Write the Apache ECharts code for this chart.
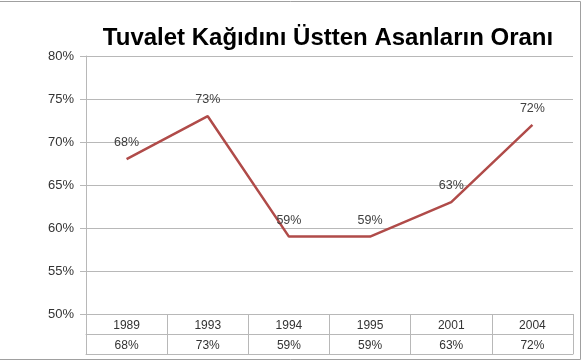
<!DOCTYPE html>
<html>
<head>
<meta charset="utf-8">
<script src="https://cdn.jsdelivr.net/npm/echarts@6/dist/echarts.min.js"></script>
<style>
html,body{margin:0;padding:0;background:#fff;}
#c{width:587px;height:362px;}
</style>
</head>
<body>
<div id="c"></div>
<script>
var title = 'Tuvalet Kağıdını Üstten Asanların Oranı';
var years = ['1989', '1993', '1994', '1995', '2001', '2004'];
var values = [68, 73, 59, 59, 63, 72];
var yMin = 50, yMax = 80, yStep = 5;

var valueLabels = values.map(function (v) { return v + '%'; });
var chart = echarts.init(document.getElementById('c'));
var font = '"Liberation Sans", Arial, sans-serif';
var gridLine = '#b8b8b8';

chart.setOption({
  backgroundColor: '#fff',
  animation: false,
  title: {
    text: title,
    left: 323, textAlign: 'center', top: 21,
    textStyle: { fontFamily: font, fontWeight: 'bold', fontSize: 24, color: '#000' }
  },
  graphic: [
    { type: 'polyline', shape: { points: [[0, 1.5], [580.5, 1.5], [580.5, 359.5], [0, 359.5]] },
      style: { fill: 'none', stroke: '#a0a0a0', lineWidth: 1 }, silent: true }
  ],
  grid: { left: 86, right: 14, top: 56, bottom: 48 },
  xAxis: [
    {
      type: 'category', data: years, position: 'bottom', boundaryGap: true,
      axisLine: { show: true, lineStyle: { color: gridLine } },
      axisTick: { show: true, length: 40, inside: false, lineStyle: { color: gridLine } },
      axisLabel: { margin: 6, fontFamily: font, fontSize: 12, color: '#333' },
      splitLine: { show: false }
    },
    {
      type: 'category', data: valueLabels, position: 'bottom', offset: 20, boundaryGap: true,
      axisLine: { show: true, lineStyle: { color: gridLine } },
      axisTick: { show: false },
      axisLabel: { margin: 6, fontFamily: font, fontSize: 12, color: '#333' },
      splitLine: { show: false }
    },
    {
      type: 'category', data: years, position: 'bottom', offset: 40, boundaryGap: true,
      axisLine: { show: true, lineStyle: { color: gridLine } },
      axisTick: { show: false },
      axisLabel: { show: false },
      splitLine: { show: false }
    }
  ],
  yAxis: {
    type: 'value', min: yMin, max: yMax, interval: yStep,
    axisLine: { show: true, lineStyle: { color: gridLine } },
    axisTick: { show: true, length: 6, lineStyle: { color: gridLine } },
    axisLabel: { formatter: '{value}%', margin: 12, fontFamily: font, fontSize: 13, color: '#333' },
    splitLine: { show: true, lineStyle: { color: gridLine, width: 1 } }
  },
  series: [{
    type: 'line', data: values, xAxisIndex: 0,
    symbol: 'circle', symbolSize: 2, showSymbol: true,
    itemStyle: { color: 'rgba(176,75,73,0)', borderWidth: 0 },
    lineStyle: { color: '#b04b49', width: 2.5 },
    label: {
      show: true, position: 'top', distance: 9,
      formatter: '{c}%', fontFamily: font, fontSize: 12.5, color: '#404040'
    }
  }]
});
</script>
</body>
</html>
